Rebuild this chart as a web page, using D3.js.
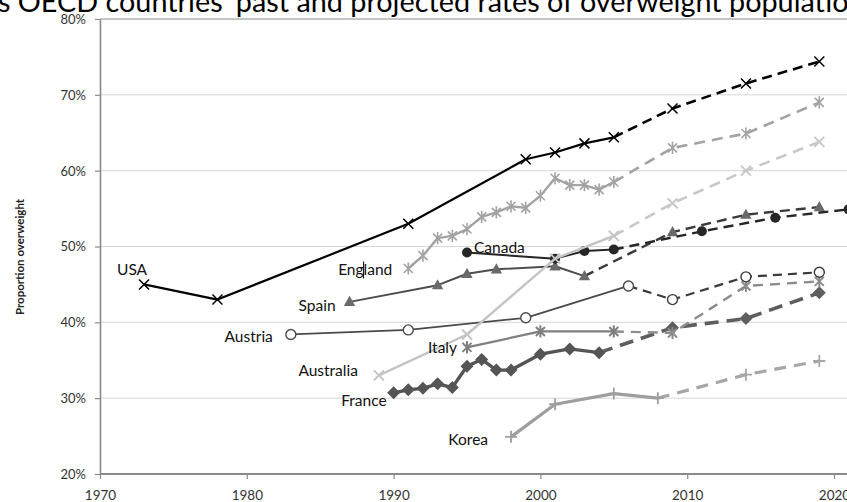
<!DOCTYPE html>
<html><head><meta charset="utf-8">
<script src="https://cdn.jsdelivr.net/npm/d3@7/dist/d3.min.js"></script>
<style>html,body{margin:0;padding:0;background:#fff;overflow:hidden}</style>
</head><body><svg id="c" width="847" height="502"></svg>
<script>
// ---------- data ----------
const titleText = "s OECD countries' past and projected rates of overweight populatio";
const yAxisTitle = "Proportion overweight";
const xTickValues = [1970, 1980, 1990, 2000, 2010, 2020];
const yTickValues = [20, 30, 40, 50, 60, 70, 80];

const usaObs = [[1973,45.0],[1978,43.0],[1991,53.0],[1999,61.5],[2001,62.4],[2003,63.6],[2005,64.4]];
const usaProj = [[2009,68.2],[2014,71.5],[2019,74.4]];

const englandObs = [[1991,47.1],[1992,48.8],[1993,51.1],[1994,51.4],[1995,52.3],[1996,53.9],[1997,54.5],[1998,55.3],[1999,55.1],[2000,56.7],[2001,59.0],[2002,58.1],[2003,58.1],[2004,57.5],[2005,58.5]];
const englandProj = [[2009,63.0],[2014,64.9],[2019,69.0]];

const australiaObs = [[1989,33.0],[1995,38.4],[2001,48.4],[2005,51.4]];
const australiaProj = [[2009,55.7],[2014,60.0],[2019,63.8]];

const canadaObs = [[1995,49.2],[2001,48.4],[2003,49.4],[2005,49.6]];
const canadaProj = [[2011,52.0],[2016,53.8],[2021,54.9]];

const spainObs = [[1987,42.7],[1993,44.9],[1995,46.4],[1997,47.0],[2001,47.4],[2003,46.1]];
const spainProj = [[2009,51.9],[2014,54.2],[2019,55.2]];

const austriaObs = [[1983,38.4],[1991,39.0],[1999,40.6],[2006,44.8]];
const austriaProj = [[2009,43.0],[2014,46.0],[2019,46.6]];

const italyObs = [[1995,36.7],[2000,38.8],[2005,38.8]];
const italyProj = [[2009,38.6],[2014,44.8],[2019,45.4]];

const franceObs = [[1990,30.7],[1991,31.1],[1992,31.3],[1993,31.9],[1994,31.4],[1995,34.2],[1996,35.1],[1997,33.7],[1998,33.7],[2000,35.8],[2002,36.5],[2004,36.0]];
const franceProj = [[2009,39.3],[2014,40.5],[2019,43.9]];

const koreaObs = [[1998,24.9],[2001,29.2],[2005,30.6],[2008,30.0]];
const koreaProj = [[2014,33.1],[2019,34.9]];

// ---------- styles ----------
const series = [
  {name:"Korea", obs:koreaObs, proj:koreaProj, color:"#9e9e9e", pcolor:"#a6a6a6", w:3.2, pw:3.2, dash:"12,8", marker:"plus", ms:6, mw:1.8, lab:{anchor:"end", dx:-23, dy:8}},
  {name:"France", obs:franceObs, proj:franceProj, color:"#555555", pcolor:"#5e5e5e", w:3.4, pw:3.6, dash:"14,8", marker:"diamond", ms:6.5, mw:1, lab:{anchor:"end", dx:-7, dy:13}},
  {name:"Italy", obs:italyObs, proj:italyProj, color:"#7f7f7f", pcolor:"#8c8c8c", w:2.2, pw:2.4, dash:"10,7", marker:"star", ms:4.5, mw:2, lab:{anchor:"end", dx:-10, dy:6}},
  {name:"Austria", obs:austriaObs, proj:austriaProj, color:"#4a4a4a", pcolor:"#3a3a3a", w:1.8, pw:2.2, dash:"9,6", marker:"ocircle", ms:5, mw:1.4, lab:{anchor:"end", dx:-18, dy:8}},
  {name:"Spain", obs:spainObs, proj:spainProj, color:"#4d4d4d", pcolor:"#3a3a3a", w:2, pw:2.4, dash:"10,6", marker:"triangle", ms:6, mw:1, mfill:"#6a6a6a", lab:{anchor:"end", dx:-14, dy:9}},
  {name:"Canada", obs:canadaObs, proj:canadaProj, color:"#262626", pcolor:"#262626", w:2, pw:2.4, dash:"10,6", marker:"circle", ms:5, mw:1, lab:{anchor:"start", dx:7, dy:0}},
  {name:"Australia", obs:australiaObs, proj:australiaProj, color:"#c4c4c4", pcolor:"#c8c8c8", w:2.4, pw:2.6, dash:"11,7", marker:"x", ms:5, mw:2, lab:{anchor:"end", dx:-21, dy:1}},
  {name:"England", obs:englandObs, proj:englandProj, color:"#a3a3a3", pcolor:"#a3a3a3", w:2.4, pw:2.6, dash:"11,7", marker:"star", ms:4.5, mw:1.6, lab:{anchor:"end", dx:-16, dy:7}},
  {name:"USA", obs:usaObs, proj:usaProj, color:"#000000", pcolor:"#000000", w:2.2, pw:2.6, dash:"10,6", marker:"x", ms:5, mw:1.5, lab:{anchor:"middle", dx:-12, dy:-9}}
];

const W = 847, H = 502;
const svg = d3.select("#c");
const x = d3.scaleLinear().domain([1970, 2020]).range([100, 834]);
const y = d3.scaleLinear().domain([20, 80]).range([474, 19]);
const FONT = "Lato, 'Open Sans', 'DejaVu Sans', sans-serif";

// gridlines
svg.append("g").selectAll("line").data(yTickValues.filter(v => v > 20)).join("line")
  .attr("x1", x(1970)).attr("x2", W)
  .attr("y1", d => y(d)).attr("y2", d => y(d))
  .attr("stroke", d => d === 80 ? "#b0b0b0" : "#d6d6d6")
  .attr("stroke-width", d => d === 80 ? 1.5 : 1);

// y axis
const yAxis = svg.append("g").attr("transform", `translate(${x(1970)},0)`)
  .call(d3.axisLeft(y).tickValues(yTickValues).tickFormat(d => d + "%").tickSize(5).tickSizeOuter(0));
yAxis.select(".domain").attr("stroke", "#8a8a8a").attr("stroke-width", 1.6);
yAxis.selectAll(".tick line").attr("stroke", "#8a8a8a").attr("stroke-width", 1.2);
yAxis.selectAll(".tick text").attr("x", -14).attr("dy", "0.34em")
  .attr("font-family", FONT).attr("font-size", 13).attr("fill", "#333");

// x axis
const xAxis = svg.append("g").attr("transform", `translate(0,${y(20)})`)
  .call(d3.axisBottom(x).tickValues(xTickValues).tickFormat(d3.format("d")).tickSize(5).tickSizeOuter(0));
xAxis.select(".domain").remove();
xAxis.append("line").attr("x1", x(1970)).attr("x2", W).attr("y1", 0).attr("y2", 0)
  .attr("stroke", "#8a8a8a").attr("stroke-width", 2);
xAxis.selectAll(".tick line").attr("stroke", "#8a8a8a").attr("stroke-width", 1.2);
xAxis.selectAll(".tick text").attr("y", 25.5).attr("dy", 0)
  .attr("font-family", FONT).attr("font-size", 13.5).attr("fill", "#333");

// y axis title
svg.append("text")
  .attr("transform", `translate(24,257) rotate(-90)`)
  .attr("text-anchor", "middle")
  .attr("font-family", FONT).attr("font-size", 11.5).attr("font-weight", "bold").attr("fill", "#222")
  .text(yAxisTitle);

// title
const t = svg.append("text").attr("x", -2).attr("y", 12)
  .attr("font-family", FONT).attr("font-size", 26).attr("fill", "#000").text(titleText);
const tl = t.node().getComputedTextLength();
t.attr("font-size", 26 * 851 / tl);

// marker path
function markerPath(type, s) {
  switch (type) {
    case "x": return `M${-s},${-s}L${s},${s}M${-s},${s}L${s},${-s}`;
    case "star": return `M${-s},${-s}L${s},${s}M${-s},${s}L${s},${-s}M0,${-s*1.35}L0,${s*1.35}`;
    case "plus": return `M${-s},0L${s},0M0,${-s}L0,${s}`;
    case "triangle": return `M0,${-s}L${s*0.95},${s*0.7}L${-s*0.95},${s*0.7}Z`;
    case "diamond": return `M0,${-s}L${s},0L0,${s}L${-s},0Z`;
    default: return null;
  }
}

const line = d3.line().x(d => x(d[0])).y(d => y(d[1]));

series.forEach(s => {
  const g = svg.append("g");
  const projPts = [s.obs[s.obs.length - 1]].concat(s.proj);
  g.append("path").datum(projPts).attr("d", line)
    .attr("fill", "none").attr("stroke", s.pcolor).attr("stroke-width", s.pw)
    .attr("stroke-dasharray", s.dash);
  g.append("path").datum(s.obs).attr("d", line)
    .attr("fill", "none").attr("stroke", s.color).attr("stroke-width", s.w)
    .attr("stroke-linejoin", "round");
  const pts = s.obs.concat(s.proj);
  pts.forEach((d, i) => {
    const col = i >= s.obs.length ? s.pcolor : s.color;
    const cx = x(d[0]), cy = y(d[1]);
    if (s.marker === "circle") {
      g.append("circle").attr("cx", cx).attr("cy", cy).attr("r", s.ms).attr("fill", col);
    } else if (s.marker === "ocircle") {
      g.append("circle").attr("cx", cx).attr("cy", cy).attr("r", s.ms)
        .attr("fill", "#fff").attr("stroke", col).attr("stroke-width", s.mw);
    } else if (s.marker === "triangle" || s.marker === "diamond") {
      g.append("path").attr("transform", `translate(${cx},${cy})`).attr("d", markerPath(s.marker, s.ms))
        .attr("fill", s.mfill || col);
    } else {
      g.append("path").attr("transform", `translate(${cx},${cy})`).attr("d", markerPath(s.marker, s.ms))
        .attr("fill", "none").attr("stroke", col).attr("stroke-width", s.mw);
    }
  });
});

// labels
series.forEach(s => {
  const p = s.obs[0];
  const lt = svg.append("text")
    .attr("x", x(p[0]) + s.lab.dx).attr("y", y(p[1]) + s.lab.dy)
    .attr("text-anchor", s.lab.anchor)
    .attr("font-family", FONT).attr("font-size", 15.5).attr("fill", "#111")
    .text(s.name);
  if (s.name === "England") {
    const n = lt.node();
    const bb = n.getBBox();
    const cx = bb.x + n.getSubStringLength(0, 3);
    svg.append("line").attr("x1", cx).attr("x2", cx).attr("y1", bb.y + 1).attr("y2", bb.y + bb.height)
      .attr("stroke", "#000").attr("stroke-width", 1);
  }
});
</script>
</body></html>
